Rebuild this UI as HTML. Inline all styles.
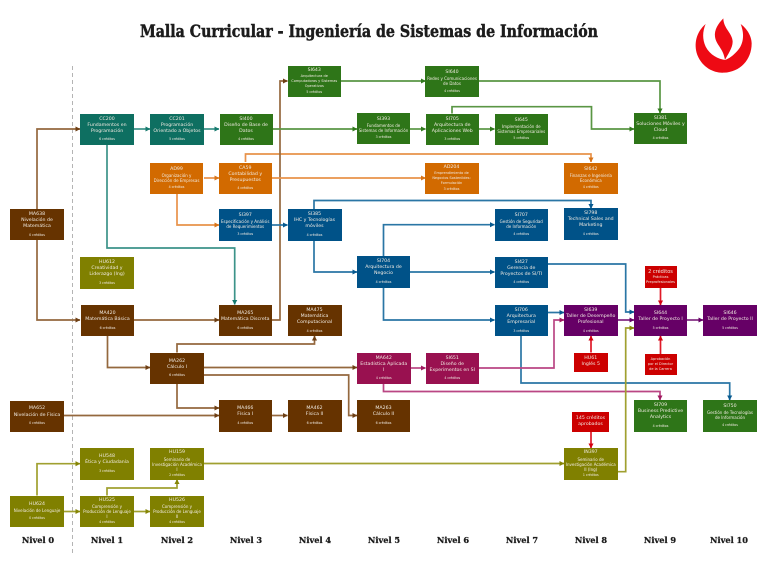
<!DOCTYPE html>
<html lang="es"><head><meta charset="utf-8"><title>Malla Curricular</title>
<style>
html,body{margin:0;padding:0;background:#fff}
#p{position:relative;width:768px;height:576px;overflow:hidden;background:#fff;font-family:"DejaVu Sans","Liberation Sans",sans-serif}
svg{position:absolute;left:0;top:0}
.n{position:absolute;box-sizing:border-box;display:flex;flex-direction:column;justify-content:center;align-items:center;text-align:center;color:#f1ebe2;font-size:4.7px;line-height:6px;padding:0;white-space:nowrap}
.n b{font-weight:normal;font-size:4.7px;line-height:6.2px}
.n i{font-style:normal;font-size:3.2px;line-height:4.6px;margin-top:2.6px}
.n.s span{font-size:4px;line-height:5px}
.n.t span{font-size:3.5px;line-height:4.8px}
.c0{background:#0e6f61}.c1{background:#663300}.c2{background:#2e7518}.c3{background:#d26a00}.c4{background:#005288}
.c5{background:#991150}.c6{background:#660066}.c7{background:#808000}.c8{background:#cc0000}
.l{position:absolute;top:534px;width:60px;text-align:center;font-family:"DejaVu Serif","Liberation Serif",serif;font-weight:bold;font-size:8.2px;line-height:12px;color:#1c1c1c;-webkit-text-stroke:.25px #1c1c1c}
polyline{fill:none;stroke-width:1.7}
.te{stroke:#3c9389;marker-end:url(#mte)}.br{stroke:#94683e;marker-end:url(#mbr)}.gr{stroke:#5a9644;marker-end:url(#mgr)}
.or{stroke:#e8924a;marker-end:url(#mor)}.bl{stroke:#2a76a5;marker-end:url(#mbl)}.ma{stroke:#ba4684;marker-end:url(#mma)}
.pu{stroke:#822a82;marker-end:url(#mpu)}.ol{stroke:#a0a030;marker-end:url(#mol)}.re{stroke:#e01a28;marker-end:url(#mre)}
</style></head><body><div id="p">
<svg width="768" height="576" viewBox="0 0 768 576">
<defs>
<marker id="mte" markerUnits="userSpaceOnUse" markerWidth="6" markerHeight="6" refX="4.6" refY="3" orient="auto"><path d="M0 .4L5 3L0 5.6Z" fill="#15796d"/></marker>
<marker id="mbr" markerUnits="userSpaceOnUse" markerWidth="6" markerHeight="6" refX="4.6" refY="3" orient="auto"><path d="M0 .4L5 3L0 5.6Z" fill="#6e3f14"/></marker>
<marker id="mgr" markerUnits="userSpaceOnUse" markerWidth="6" markerHeight="6" refX="4.6" refY="3" orient="auto"><path d="M0 .4L5 3L0 5.6Z" fill="#327a1e"/></marker>
<marker id="mor" markerUnits="userSpaceOnUse" markerWidth="6" markerHeight="6" refX="4.6" refY="3" orient="auto"><path d="M0 .4L5 3L0 5.6Z" fill="#d8751a"/></marker>
<marker id="mbl" markerUnits="userSpaceOnUse" markerWidth="6" markerHeight="6" refX="4.6" refY="3" orient="auto"><path d="M0 .4L5 3L0 5.6Z" fill="#075a90"/></marker>
<marker id="mma" markerUnits="userSpaceOnUse" markerWidth="6" markerHeight="6" refX="4.6" refY="3" orient="auto"><path d="M0 .4L5 3L0 5.6Z" fill="#a01a60"/></marker>
<marker id="mpu" markerUnits="userSpaceOnUse" markerWidth="6" markerHeight="6" refX="4.6" refY="3" orient="auto"><path d="M0 .4L5 3L0 5.6Z" fill="#660066"/></marker>
<marker id="mol" markerUnits="userSpaceOnUse" markerWidth="6" markerHeight="6" refX="4.6" refY="3" orient="auto"><path d="M0 .4L5 3L0 5.6Z" fill="#858505"/></marker>
<marker id="mre" markerUnits="userSpaceOnUse" markerWidth="6" markerHeight="6" refX="4.6" refY="3" orient="auto"><path d="M0 .4L5 3L0 5.6Z" fill="#d40010"/></marker>
</defs>
<text x="140" y="37" textLength="458" lengthAdjust="spacingAndGlyphs" font-family="'DejaVu Serif','Liberation Serif',serif" font-weight="bold" font-size="17" fill="#1c1c1c" stroke="#1c1c1c" stroke-width=".5">Malla Curricular - Ingeniería de Sistemas de Información</text>
<g transform="translate(690 0) scale(.3333)" fill="#ee0a14">
<path d="M47 72C20 95 10 130 22 165C38 205 75 220 102 218C150 216 185 180 185 130C185 108 170 85 152 72C165 105 160 135 140 155C128 168 118 175 106 180C85 178 60 165 47 140C37 118 37 95 47 72Z"/>
<path d="M100 55C85 70 72 90 75 110C78 135 100 145 105 180C112 165 128 145 128 125C128 100 100 85 100 55Z"/>
</g>
<line x1="72.5" y1="66" x2="72.5" y2="553" stroke="#b4b4b4" stroke-width="1" stroke-dasharray="4 3"/>

<polyline class="or" points="245.5,162 245.5,154 591,154 591,162"/>
<polyline class="bl" points="314,209 314,200.5 591,200.5 591,208.5"/>
<polyline class="te" points="134,129 150,129"/>
<polyline class="te" points="204,129 219,129"/>
<polyline class="te" points="107,145 107,248 234.7,248 234.7,304.5"/>
<polyline class="br" points="37,209 37,129 80,129"/>
<polyline class="br" points="37,240 37,320 80,320"/>
<polyline class="br" points="134,320 219,320"/>
<polyline class="br" points="107.5,336 107.5,367.5 150,367.5"/>
<polyline class="br" points="177,352.5 177,344 314.5,344 314.5,336"/>
<polyline class="br" points="204,367.5 357,367.5"/>
<polyline class="br" points="204,375 348.7,375 348.7,415.5 357,415.5"/>
<polyline class="br" points="177,384 177,408 219,408"/>
<polyline class="br" points="64,415.5 219,415.5"/>
<polyline class="br" points="272,415.5 287.5,415.5"/>
<polyline class="br" points="272,320 280,320 280,81 287.5,81"/>
<polyline class="gr" points="272,129 357,129"/>
<polyline class="gr" points="410,129 425.5,129"/>
<polyline class="gr" points="479,129 494.5,129"/>
<polyline class="gr" points="452,113.5 452,106.7 591.5,106.7 591.5,129 634,129"/>
<polyline class="gr" points="341,81 425.5,81"/>
<polyline class="gr" points="479,81 660,81 660,113"/>
<polyline class="or" points="204,178 219,178"/>
<polyline class="or" points="177,194 177,225 219,225"/>
<polyline class="or" points="272,178 425.5,178"/>
<polyline class="bl" points="272,225 287.5,225"/>
<polyline class="bl" points="314,241 314,272 357,272"/>
<polyline class="bl" points="383.5,256 383.5,224.7 494.5,224.7"/>
<polyline class="bl" points="410,272 494.5,272"/>
<polyline class="bl" points="383.5,287 383.5,320 494.5,320"/>
<polyline class="bl" points="548,264 625.7,264 625.7,312 634,312"/>
<polyline class="bl" points="548,312.5 564,312.5"/>
<polyline class="bl" points="521,336 521,383 729.7,383 729.7,400"/>
<polyline class="ma" points="410,368 425.5,368"/>
<polyline class="ma" points="479,368 554,368 554,320 564,320"/>
<polyline class="ma" points="383.5,384 383.5,391.5 660,391.5 660,400"/>
<polyline class="pu" points="617.5,320 634,320"/>
<polyline class="pu" points="687,320 703,320"/>
<polyline class="re" points="660.5,288 660.5,305"/>
<polyline class="re" points="660.5,354 660.5,336"/>
<polyline class="re" points="591,352.5 591,336"/>
<polyline class="re" points="591,432 591,448"/>
<polyline class="ol" points="37,495.5 37,463.7 80,463.7"/>
<polyline class="ol" points="64,511.5 80,511.5"/>
<polyline class="ol" points="134,511.5 150,511.5"/>
<polyline class="ol" points="107,495.5 107,488 177,488 177,479.5"/>
<polyline class="ol" points="204,463.5 564,463.5"/>
<polyline class="ol" points="617.5,471.7 625.7,471.7 625.7,328 634,328"/>
</svg>

<div class="n c2 t" style="left:287.5px;top:66px;width:53.5px;height:30.5px"><b>SI643</b><span>Arquitectura de<br>Computadoras y Sistemas<br>Operativos</span><i style="margin-top:1px">5 créditos</i></div>
<div class="n c2 s" style="left:425px;top:66px;width:54px;height:31px"><b>SI640</b><span>Redes y Comunicaciones<br>de Datos</span><i>4 créditos</i></div>
<div class="n c0" style="left:80px;top:113.5px;width:54px;height:31.5px"><b>CC200</b><span>Fundamentos en<br>Programación</span><i>6 créditos</i></div>
<div class="n c0" style="left:150px;top:113.5px;width:54px;height:31.5px"><b>CC201</b><span>Programación<br>Orientado a Objetos</span><i>5 créditos</i></div>
<div class="n c2" style="left:219.5px;top:113.5px;width:53px;height:31.5px"><b>SI400</b><span>Diseño de Base de<br>Datos</span><i>4 créditos</i></div>
<div class="n c2 s" style="left:357px;top:112.5px;width:53px;height:31.5px"><b>SI393</b><span>Fundamentos de<br>Sistemas de Información</span><i>3 créditos</i></div>
<div class="n c2" style="left:425.5px;top:113.5px;width:53.5px;height:31.5px"><b>SI705</b><span>Arquitectura de<br>Aplicaciones Web</span><i>3 créditos</i></div>
<div class="n c2 s" style="left:494.5px;top:113.5px;width:53.5px;height:31.5px"><b>SI645</b><span>Implementación de<br>Sistemas Empresariales</span><i>5 créditos</i></div>
<div class="n c2" style="left:634px;top:112.5px;width:53px;height:31.5px"><b>SI381</b><span>Soluciones Móviles y<br>Cloud</span><i>4 créditos</i></div>

<div class="n c3 s" style="left:150px;top:162.5px;width:53px;height:31.5px"><b>AD99</b><span>Organización y<br>Dirección de Empresas</span><i>4 créditos</i></div>
<div class="n c3" style="left:218.5px;top:162.5px;width:53.5px;height:31.5px"><b>CA59</b><span>Contabilidad y<br>Presupuestos</span><i>4 créditos</i></div>
<div class="n c3 t" style="left:424.5px;top:162.5px;width:54px;height:31.5px"><b>AD204</b><span>Emprendimiento de<br>Negocios Sostenibles:<br>Formulación</span><i style="margin-top:1.4px">3 créditos</i></div>
<div class="n c3 s" style="left:564px;top:162.5px;width:53.5px;height:31.5px"><b>SI642</b><span>Finanzas e Ingeniería<br>Económica</span><i>4 créditos</i></div>

<div class="n c1" style="left:10px;top:209px;width:54px;height:31px"><b>MA638</b><span>Nivelación de<br>Matemática</span><i>0 créditos</i></div>
<div class="n c4 s" style="left:218.5px;top:209px;width:53.5px;height:31.5px"><b>SI397</b><span>Especificación y Análisis<br>de Requerimientos</span><i>3 créditos</i></div>
<div class="n c4" style="left:287.5px;top:209px;width:54px;height:31.5px"><b>SI385</b><span>IHC y Tecnologías<br>móviles</span><i>4 créditos</i></div>
<div class="n c4 s" style="left:494.5px;top:209px;width:53.5px;height:31.5px"><b>SI707</b><span>Gestión de Seguridad<br>de Información</span><i>4 créditos</i></div>
<div class="n c4" style="left:564px;top:208px;width:53.5px;height:31.5px"><b>SI798</b><span>Technical Sales and<br>Marketing</span><i>4 créditos</i></div>

<div class="n c7" style="left:80px;top:257px;width:54px;height:31.5px"><b>HU612</b><span>Creatividad y<br>Liderazgo (Ing)</span><i>3 créditos</i></div>
<div class="n c4" style="left:357px;top:256px;width:53px;height:31.5px"><b>SI704</b><span>Arquitectura de<br>Negocio</span><i>4 créditos</i></div>
<div class="n c4" style="left:494.5px;top:257px;width:53.5px;height:30.5px"><b>SI427</b><span>Gerencia de<br>Proyectos de SI/TI</span><i>4 créditos</i></div>
<div class="n c8 t" style="left:644.5px;top:266px;width:32px;height:22px"><b style="font-size:5px">2 créditos</b><span>Prácticas<br>Preprofesionales</span></div>

<div class="n c1" style="left:81px;top:305px;width:53px;height:31px"><b>MA420</b><span>Matemática Básica</span><i>6 créditos</i></div>
<div class="n c1" style="left:218.5px;top:305px;width:53.5px;height:31px"><b>MA265</b><span>Matemática Discreta</span><i>6 créditos</i></div>
<div class="n c1" style="left:287.5px;top:305px;width:54px;height:31px"><b>MA475</b><span>Matemática<br>Computacional</span><i>4 créditos</i></div>
<div class="n c4" style="left:494.5px;top:305px;width:53.5px;height:31px"><b>SI706</b><span>Arquitectura<br>Empresarial</span><i>3 créditos</i></div>
<div class="n c6" style="left:564px;top:305px;width:53.5px;height:31px"><b>SI639</b><span>Taller de Desempeño<br>Profesional</span><i>4 créditos</i></div>
<div class="n c6" style="left:634px;top:305px;width:53px;height:31px"><b>SI644</b><span>Taller de Proyecto I</span><i>5 créditos</i></div>
<div class="n c6" style="left:703px;top:305px;width:54px;height:31px"><b>SI646</b><span>Taller de Proyecto II</span><i>5 créditos</i></div>

<div class="n c1" style="left:150px;top:352.5px;width:54px;height:31.5px"><b>MA262</b><span>Cálculo I</span><i>6 créditos</i></div>
<div class="n c5" style="left:357px;top:352.5px;width:53.5px;height:31.5px"><b>MA642</b><span>Estadística Aplicada<br>I</span><i>4 créditos</i></div>
<div class="n c5" style="left:425.5px;top:352.5px;width:53.5px;height:31.5px"><b>SI651</b><span>Diseño de<br>Experimentos en SI</span><i>4 créditos</i></div>
<div class="n c8" style="left:574px;top:352.5px;width:33.5px;height:19px"><span>HU61<br>Inglés 5</span></div>
<div class="n c8 t" style="left:644.5px;top:354px;width:32px;height:21px"><span>Aprobación<br>por el Director<br>de la Carrera</span></div>

<div class="n c1" style="left:10px;top:400.5px;width:54px;height:31px"><b>MA652</b><span>Nivelación de Física</span><i>0 créditos</i></div>
<div class="n c1" style="left:218.5px;top:400px;width:53.5px;height:31.5px"><b>MA466</b><span>Física I</span><i>4 créditos</i></div>
<div class="n c1" style="left:287.5px;top:400px;width:54px;height:31.5px"><b>MA462</b><span>Física II</span><i>6 créditos</i></div>
<div class="n c1" style="left:357px;top:400px;width:53px;height:31.5px"><b>MA263</b><span>Cálculo II</span><i>6 créditos</i></div>
<div class="n c2" style="left:634px;top:400px;width:53px;height:31.5px"><b>SI709</b><span>Business Predictive<br>Analytics</span><i>4 créditos</i></div>
<div class="n c2 s" style="left:703px;top:400px;width:54px;height:31.5px"><b>SI750</b><span>Gestión de Tecnologías<br>de Información</span><i>4 créditos</i></div>
<div class="n c8" style="left:572px;top:412px;width:37px;height:20px"><span>145 créditos<br>aprobados</span></div>

<div class="n c7" style="left:80px;top:448px;width:54px;height:31.5px"><b>HU548</b><span>Ética y Ciudadanía</span><i>3 créditos</i></div>
<div class="n c7 s" style="left:150px;top:448px;width:54px;height:31.5px"><b>HU159</b><span>Seminario de<br>Investigación Académica<br>I</span><i style="margin-top:1px">2 créditos</i></div>
<div class="n c7 s" style="left:564px;top:448px;width:53.5px;height:31.5px"><b>IN397</b><span>Seminario de<br>Investigación Académica<br>II (Ing)</span><i style="margin-top:1px">1 créditos</i></div>
<div class="n c7 s" style="left:10px;top:495.5px;width:54px;height:31.5px"><b>HU624</b><span>Nivelación de Lenguaje</span><i>0 créditos</i></div>
<div class="n c7 s" style="left:80px;top:495.5px;width:54px;height:31.5px"><b>HU525</b><span>Comprensión y<br>Producción de Lenguaje<br>I</span><i style="margin-top:1px">4 créditos</i></div>
<div class="n c7 s" style="left:150px;top:495.5px;width:54px;height:31.5px"><b>HU526</b><span>Comprensión y<br>Producción de Lenguaje<br>II</span><i style="margin-top:1px">4 créditos</i></div>

<div class="l" style="left:8px">Nivel 0</div>
<div class="l" style="left:77px">Nivel 1</div>
<div class="l" style="left:147px">Nivel 2</div>
<div class="l" style="left:216px">Nivel 3</div>
<div class="l" style="left:285px">Nivel 4</div>
<div class="l" style="left:354px">Nivel 5</div>
<div class="l" style="left:423px">Nivel 6</div>
<div class="l" style="left:492px">Nivel 7</div>
<div class="l" style="left:561px">Nivel 8</div>
<div class="l" style="left:630px">Nivel 9</div>
<div class="l" style="left:699px">Nivel 10</div>
</div></body></html>
